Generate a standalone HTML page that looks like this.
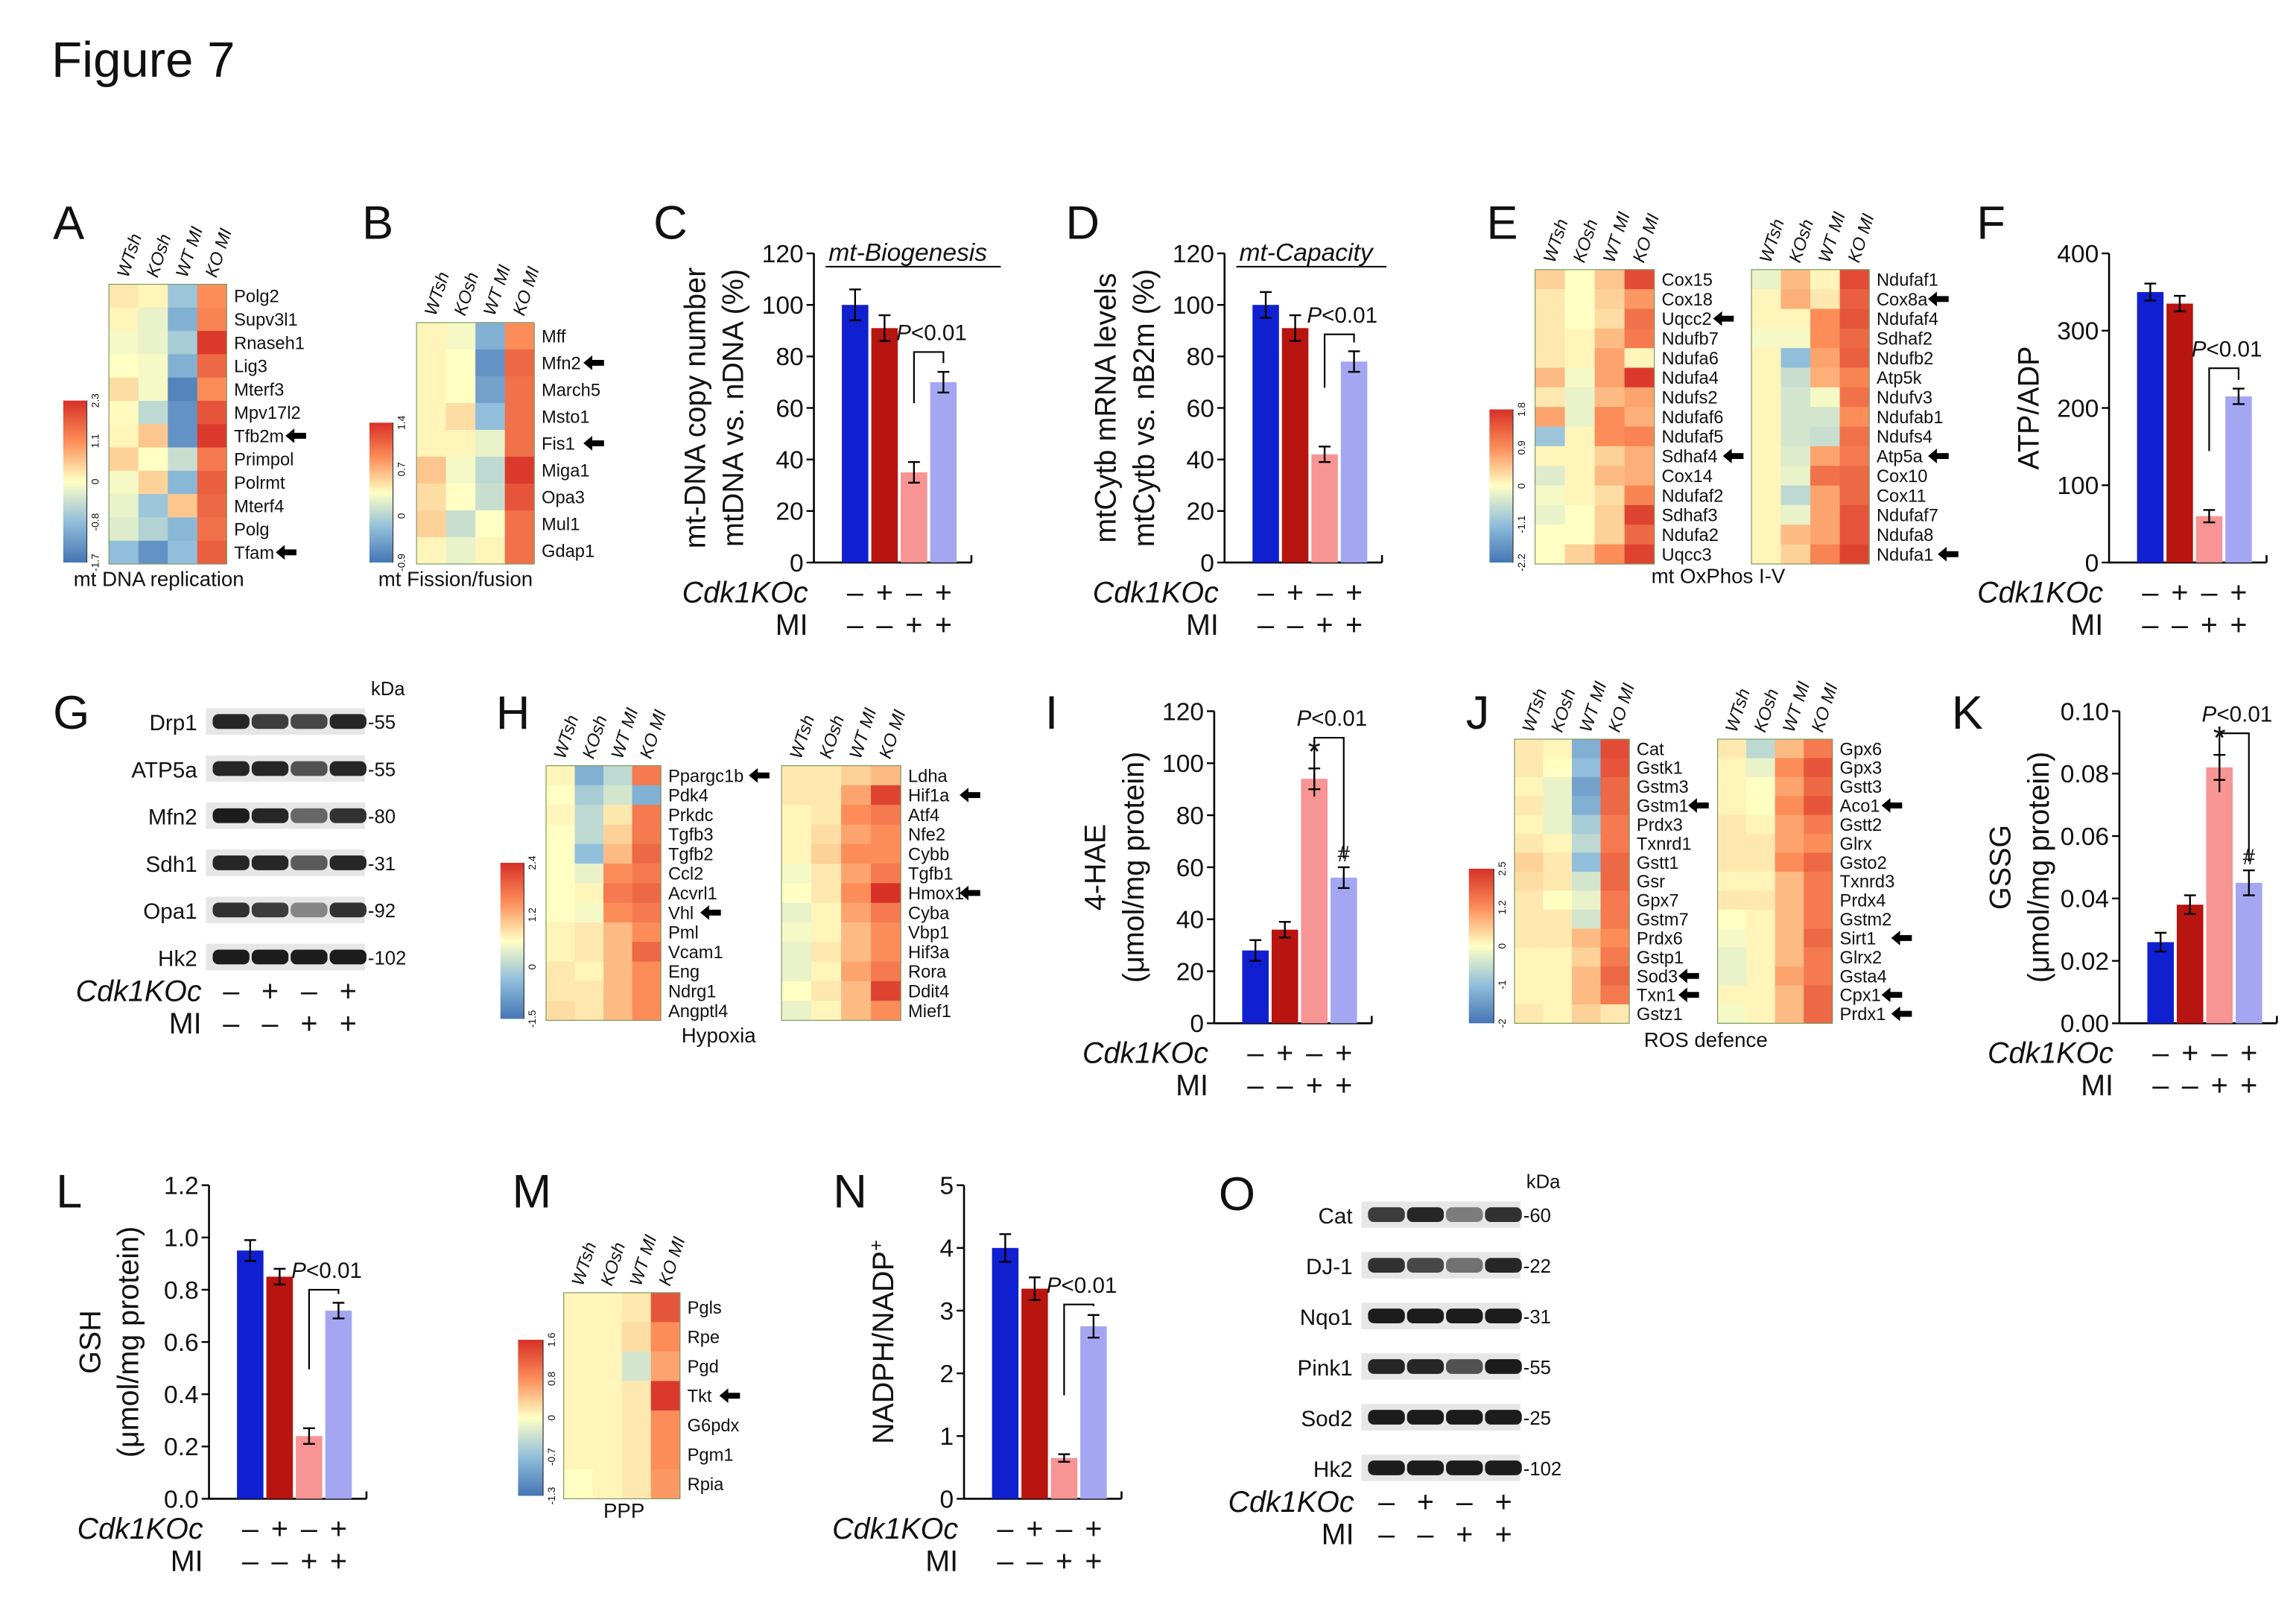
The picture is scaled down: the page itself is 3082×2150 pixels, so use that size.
<!DOCTYPE html>
<html><head><meta charset="utf-8"><style>
html,body{margin:0;padding:0;background:#fff}
svg{display:block}
text{font-family:"Liberation Sans",sans-serif;fill:#111}
</style></head><body>
<svg id="fig" width="3082" height="2150" viewBox="0 0 1560 1088" xmlns="http://www.w3.org/2000/svg">
<text x="35" y="52" font-size="34">Figure 7</text>
</svg>
<script>
// ---------- data ----------
const groups = ["WTsh","KOsh","WT MI","KO MI"];
const koSigns = ["–","+","–","+"];
const miSigns = ["–","–","+","+"];

const cValues = [100, 91, 35, 70];
const cErrors = [6, 5, 4, 4];
const cTicks = [0,20,40,60,80,100,120];
const dValues = [100, 91, 42, 78];
const dErrors = [5, 5, 3, 4];
const dTicks = [0,20,40,60,80,100,120];
const fValues = [350, 335, 60, 215];
const fErrors = [11, 10, 8, 10];
const fTicks = [0,100,200,300,400];
const iValues = [28, 36, 94, 56];
const iErrors = [4, 3, 4, 4];
const iTicks = [0,20,40,60,80,100,120];
const kValues = [0.026, 0.038, 0.082, 0.045];
const kErrors = [0.003, 0.003, 0.004, 0.004];
const kTicks = [0,0.02,0.04,0.06,0.08,0.10];
const lValues = [0.95, 0.85, 0.24, 0.72];
const lErrors = [0.04, 0.03, 0.03, 0.03];
const lTicks = [0,0.2,0.4,0.6,0.8,1.0,1.2];
const nValues = [4.0, 3.35, 0.65, 2.75];
const nErrors = [0.22, 0.18, 0.06, 0.18];
const nTicks = [0,1,2,3,4,5];

const aGenes = ["Polg2","Supv3l1","Rnaseh1","Lig3","Mterf3","Mpv17l2","Tfb2m","Primpol","Polrmt","Mterf4","Polg","Tfam"];
const aCells = [[.1,.05,-.45,.5],[.05,-.1,-.6,.55],[-.05,-.1,-.4,.95],[0,-.05,-.6,.7],[.15,-.05,-.9,.5],[.02,-.3,-.8,.8],[.05,.25,-.8,.95],[.2,0,-.25,.6],[-.05,.2,-.55,.75],[-.1,-.45,.25,.7],[-.15,-.35,-.55,.65],[-.5,-.8,-.5,.75]];
const aArrows = ["Tfb2m","Tfam"];
const bGenes = ["Mff","Mfn2","March5","Msto1","Fis1","Miga1","Opa3","Mul1","Gdap1"];
const bCells = [[.05,-.05,-.6,.5],[.05,0,-.8,.7],[.05,0,-.7,.65],[.05,.15,-.5,.65],[.05,.05,-.1,.65],[.25,-.05,-.3,.95],[.15,0,-.25,.8],[.2,-.25,0,.65],[.05,-.1,.05,.65]];
const bArrows = ["Mfn2","Fis1"];
const e1Genes = ["Cox15","Cox18","Uqcc2","Ndufb7","Ndufa6","Ndufa4","Ndufs2","Ndufaf6","Ndufaf5","Sdhaf4","Cox14","Ndufaf2","Sdhaf3","Ndufa2","Uqcc3"];
const e1Cells = [[.2,0,.25,.85],[.1,0,.2,.45],[.1,0,.15,.65],[.1,.05,.3,.6],[.1,.05,.4,.05],[.3,-.05,.4,.95],[.1,-.1,.3,.4],[.4,-.1,.5,.35],[-.45,.05,.5,.55],[.05,.05,.2,.35],[-.15,.05,.3,.35],[-.05,.05,.15,.55],[-.1,0,.2,.9],[0,0,.2,.7],[0,.2,.5,.9]];
const e1Arrows = ["Uqcc2","Sdhaf4"];
const e2Genes = ["Ndufaf1","Cox8a","Ndufaf4","Sdhaf2","Ndufb2","Atp5k","Ndufv3","Ndufab1","Ndufs4","Atp5a","Cox10","Cox11","Ndufaf7","Ndufa8","Ndufa1"];
const e2Cells = [[-.1,.3,.05,.85],[.05,.35,.1,.75],[.05,.05,.5,.8],[-.05,-.05,.5,.7],[.05,-.5,.4,.75],[.05,-.25,.35,.55],[.05,-.2,-.05,.65],[.05,-.2,-.2,.5],[.05,-.2,-.25,.65],[.05,-.15,.4,.6],[.05,-.1,.65,.7],[.05,-.3,.4,.7],[.05,-.1,.4,.8],[.05,.3,.4,.8],[.05,.2,.55,.9]];
const e2Arrows = ["Cox8a","Atp5a","Ndufa1"];
const h1Genes = ["Ppargc1b","Pdk4","Prkdc","Tgfb3","Tgfb2","Ccl2","Acvrl1","Vhl","Pml","Vcam1","Eng","Ndrg1","Angptl4"];
const h1Cells = [[.05,-.6,-.3,.6],[0,-.4,-.2,-.6],[.05,-.3,.1,.6],[0,-.3,.2,.6],[0,-.5,.3,.7],[0,-.1,.5,.6],[0,.05,.6,.7],[0,-.05,.5,.6],[.05,.1,.3,.5],[.05,.1,.3,.7],[.1,.05,.3,.5],[.1,.1,.3,.5],[.15,.1,.3,.5]];
const h1Arrows = ["Ppargc1b","Vhl"];
const h2Genes = ["Ldha","Hif1a","Atf4","Nfe2","Cybb","Tgfb1","Hmox1","Cyba","Vbp1","Hif3a","Rora","Ddit4","Mief1"];
const h2Cells = [[.1,.1,.2,.3],[.1,.1,.4,.9],[.05,.1,.5,.6],[.05,.15,.4,.5],[.05,.2,.5,.5],[-.05,.1,.4,.6],[0,.1,.5,1],[-.1,.05,.4,.6],[-.05,.05,.3,.5],[-.1,.1,.3,.5],[-.1,.05,.4,.6],[0,.1,.3,.9],[-.1,.05,.3,.5]];
const h2Arrows = ["Hif1a","Hmox1"];
const j1Genes = ["Cat","Gstk1","Gstm3","Gstm1","Prdx3","Txnrd1","Gstt1","Gsr","Gpx7","Gstm7","Prdx6","Gstp1","Sod3","Txn1","Gstz1"];
const j1Cells = [[.1,.05,-.6,.85],[.1,0,-.5,.8],[.05,-.1,-.7,.7],[.1,-.1,-.6,.7],[.05,-.1,-.4,.6],[.1,.05,-.3,.6],[.2,.1,-.5,.7],[.15,.1,-.2,.7],[.1,0,-.1,.6],[.1,.1,-.2,.6],[.1,.1,.3,.5],[.05,.05,.2,.6],[.05,.05,.3,.7],[.05,.05,.3,.6],[.1,.05,.2,.1]];
const j1Arrows = ["Gstm1","Sod3","Txn1"];
const j2Genes = ["Gpx6","Gpx3","Gstt3","Aco1","Gstt2","Glrx","Gsto2","Txnrd3","Prdx4","Gstm2","Sirt1","Glrx2","Gsta4","Cpx1","Prdx1"];
const j2Cells = [[.1,-.3,.3,.6],[.05,-.1,.5,.8],[.05,0,.4,.7],[.05,0,.5,.8],[.1,.05,.4,.6],[.1,.1,.4,.5],[.1,.1,.5,.7],[.05,.05,.3,.6],[.1,.1,.3,.6],[0,.05,.3,.6],[-.05,.05,.3,.7],[-.1,.05,.3,.6],[-.1,.05,.4,.6],[.05,.05,.3,.7],[-.05,.05,.3,.7]];
const j2Arrows = ["Aco1","Sirt1","Cpx1","Prdx1"];
const mGenes = ["Pgls","Rpe","Pgd","Tkt","G6pdx","Pgm1","Rpia"];
const mCells = [[.05,.05,.1,.8],[.05,.05,.15,.5],[.05,.05,-.2,.4],[.05,.05,.1,.95],[.05,.05,.1,.5],[.05,.05,.1,.5],[0,.05,.1,.45]];
const mArrows = ["Tkt"];

const gProteins = ["Drp1","ATP5a","Mfn2","Sdh1","Opa1","Hk2"];
const gKda = ["55","55","80","31","92","102"];
const gBands = [[.9,.8,.75,.9],[.9,.9,.7,.9],[.95,.9,.6,.85],[.9,.9,.65,.9],[.85,.8,.45,.85],[.95,.95,.95,.95]];
const oProteins = ["Cat","DJ-1","Nqo1","Pink1","Sod2","Hk2"];
const oKda = ["60","22","31","55","25","102"];
const oBands = [[.8,.9,.5,.85],[.85,.75,.55,.9],[.95,.95,.95,.95],[.9,.9,.7,.95],[.95,.95,.95,.95],[.95,.95,.95,.95]];

const barColors = ["#1020d0","#b81410","#f79494","#a4a6f2"];
</script>
<script>
const NS = "http://www.w3.org/2000/svg";
const svg = document.getElementById('fig');
function mk(tag, attrs, parent, name, inter) {
  const el = document.createElementNS(NS, tag);
  for (const k in attrs) el.setAttribute(k, attrs[k]);
  
  
  (parent || svg).appendChild(el);
  return el;
}
function txt(x, y, s, size, extra, name, parent) {
  const t = mk('text', Object.assign({x: x, y: y, 'font-size': size}, extra || {}), parent, name, false);
  t.textContent = s;
  return t;
}
function hcolor(v) {
  const stops = [[-1,[69,117,180]],[-0.5,[145,191,219]],[0,[255,255,196]],[0.5,[252,141,89]],[1,[215,48,39]]];
  v = Math.max(-1, Math.min(1, v));
  for (let i = 0; i < stops.length - 1; i++) {
    const a = stops[i], b = stops[i+1];
    if (v <= b[0]) {
      const t = (v - a[0]) / (b[0] - a[0]);
      const c = a[1].map((x, j) => Math.round(x + (b[1][j] - x) * t));
      return 'rgb(' + c.join(',') + ')';
    }
  }
}
// defs gradient
const defs = mk('defs', {}, svg, 'defs', false);
const grad = mk('linearGradient', {id: 'cb', x1: 0, y1: 1, x2: 0, y2: 0}, defs, 'colorbar-gradient', false);
[-1,-0.5,0,0.5,1].forEach((v, i) => {
  mk('stop', {offset: (i * 25) + '%', 'stop-color': hcolor(v)}, grad, 'gradient-stop', false);
});

function panelLabel(x, y, s) { txt(x, y, s, 32, {}, 'panel-label-' + s.toLowerCase()); }

function heatmap(id, x, y, w, h, genes, cells, arrows, showCols) {
  const g = mk('g', {}, svg, 'heatmap-' + id, false);
  const cw = w / 4, rh = h / genes.length;
  cells.forEach((row, r) => row.forEach((v, c) => {
    mk('rect', {x: x + c * cw, y: y + r * rh, width: cw + 0.3, height: rh + 0.3, fill: hcolor(v)}, g, 'heatmap-cell', false);
  }));
  mk('rect', {x: x, y: y, width: w, height: h, fill: 'none', stroke: '#7a9a60', 'stroke-width': 0.6}, g, 'heatmap-border', false);
  const fs = Math.min(12, rh * 0.95);
  genes.forEach((gn, r) => {
    const t = txt(x + w + 5, y + (r + 0.5) * rh + fs * 0.36, gn, fs, {fill: '#444'}, 'gene-label', g);
    if (arrows.indexOf(gn) >= 0) {
      const ax = x + w + 7 + gn.length * fs * 0.55;
      const ay = y + (r + 0.5) * rh;
      mk('path', {d: 'M' + ax + ' ' + ay + ' l6 -5 v3 h8 v4 h-8 v3 z', fill: '#000'}, g, 'arrow-marker', false);
    }
  });
  groups.forEach((gr, c) => {
    const cx = x + (c + 0.5) * cw + 3, cy = y - 4;
    txt(cx, cy, gr, 12, {transform: 'rotate(-72 ' + cx + ' ' + cy + ')', 'font-style': 'italic'}, 'column-label', g);
  });
}
function colorbar(id, x, y, w, h, labels) {
  const g = mk('g', {}, svg, 'colorbar-' + id, false);
  mk('rect', {x: x, y: y, width: w, height: h, fill: 'url(#cb)'}, g, 'colorbar', false);
  mk('line', {x1: x + w, y1: y, x2: x + w, y2: y + h, stroke: '#333', 'stroke-width': 0.6}, g, 'colorbar-axis', false);
  labels.forEach((l, i) => {
    const ly = y + h - (i / (labels.length - 1)) * h;
    txt(x + w + 8, ly, l, 7, {transform: 'rotate(-90 ' + (x + w + 8) + ' ' + ly + ')', 'text-anchor': 'middle', fill: '#333'}, 'colorbar-tick', g);
  });
}

function barChart(id, ax, yTop, yZero, maxV, ticks, tickFmt, values, errs, ylabels, pText, pY, marks) {
  const g = mk('g', {}, svg, 'bar-chart-' + id, false);
  const ys = v => yZero - (v / maxV) * (yZero - yTop);
  const bx = i => ax + 28 + i * 20;
  mk('line', {x1: ax, y1: yTop, x2: ax, y2: yZero, stroke: '#000', 'stroke-width': 1.3}, g, 'y-axis', false);
  mk('line', {x1: ax, y1: yZero, x2: ax + 107, y2: yZero, stroke: '#000', 'stroke-width': 1.3}, g, 'x-axis', false);
  mk('line', {x1: ax + 107, y1: yZero, x2: ax + 107, y2: yZero - 5, stroke: '#000', 'stroke-width': 1.3}, g, 'x-axis-end', false);
  ticks.forEach(t => {
    const ty = ys(t);
    mk('line', {x1: ax - 5, y1: ty, x2: ax, y2: ty, stroke: '#000', 'stroke-width': 1.2}, g, 'y-tick', false);
    txt(ax - 7, ty + 6, tickFmt(t), 17, {'text-anchor': 'end'}, 'y-tick-label', g);
  });
  values.forEach((v, i) => {
    const x = bx(i);
    mk('rect', {x: x - 9, y: ys(v), width: 18, height: yZero - ys(v), fill: barColors[i]}, g, 'bar-' + groups[i].toLowerCase().replace(' ', '-'), true);
    const e1 = ys(v + errs[i]), e2 = ys(v - errs[i]);
    mk('path', {d: 'M' + x + ' ' + e1 + 'V' + e2 + 'M' + (x - 4) + ' ' + e1 + 'h8M' + (x - 4) + ' ' + e2 + 'h8', stroke: '#000', 'stroke-width': 1.2, fill: 'none'}, g, 'error-bar', false);
  });
  // bracket
  const top3 = ys(values[3] + errs[3]) - 6;
  const bY = pY + 8;
  mk('path', {d: 'M' + (bx(2)) + ' ' + (ys(values[2] + errs[2]) - 40 > bY ? ys(values[2] + errs[2]) - 40 : bY + 40) + 'V' + bY + 'H' + bx(3) + 'V' + top3, stroke: '#000', 'stroke-width': 1.1, fill: 'none'}, g, 'significance-bracket', false);
  txt(bx(2) - 12, pY, '', 15, {}, 'p-value', g).innerHTML = '<tspan font-style="italic">P</tspan>&lt;0.01';
  if (marks) {
    txt(bx(2), ys(values[2] + errs[2]) - 4, '*', 22, {'text-anchor': 'middle'}, 'significance-star', g);
    txt(bx(3), ys(values[3] + errs[3]) - 4, '#', 15, {'text-anchor': 'middle'}, 'significance-hash', g);
  }
  // y labels
  ylabels.forEach((l, i) => {
    const lx = ax - 48 - (ylabels.length - 1 - i) * 26, ly = (yTop + yZero) / 2;
    const t = txt(lx, ly, '', 20, {transform: 'rotate(-90 ' + lx + ' ' + ly + ')', 'text-anchor': 'middle'}, 'y-axis-title', g);
    t.innerHTML = l;
  });
  signRows(id, ax - 4, bx, yZero + 27, g);
  return {ys: ys, bx: bx};
}
function signRows(id, rightX, bx, y0, g) {
  txt(rightX, y0, 'Cdk1KOc', 20, {'text-anchor': 'end', 'font-style': 'italic'}, 'cdk1koc-row-label', g);
  txt(rightX, y0 + 22, 'MI', 20, {'text-anchor': 'end'}, 'mi-row-label', g);
  koSigns.forEach((s, i) => txt(bx(i), y0, s, 20, {'text-anchor': 'middle'}, 'cdk1koc-sign', g));
  miSigns.forEach((s, i) => txt(bx(i), y0 + 22, s, 20, {'text-anchor': 'middle'}, 'mi-sign', g));
}
function blot(id, x, y0, step, proteins, kda, bands, labelX) {
  const g = mk('g', {}, svg, 'western-blot-' + id, false);
  const bx = i => x + 17 + i * 26.5;
  proteins.forEach((p, r) => {
    const y = y0 + r * step;
    mk('rect', {x: x, y: y - 9, width: 108, height: 18, fill: '#e6e6e6'}, g, 'blot-strip', false);
    bands[r].forEach((v, i) => {
      mk('rect', {x: bx(i) - 12.5, y: y - 5, width: 25, height: 10, rx: 4, fill: '#111', opacity: v}, g, 'blot-band', false);
    });
    txt(x - 6, y + 6, p, 15, {'text-anchor': 'end'}, 'protein-label', g);
    txt(x + 110, y + 5, '-' + kda[r], 13, {}, 'kda-marker', g);
  });
  txt(x + 112, y0 - 18, 'kDa', 13, {}, 'kda-header', g);
  signRows(id, labelX, bx, y0 + (proteins.length - 1) * step + 30, g);
}

// ---------- panels ----------
panelLabel(36, 162, 'A');
heatmap('a', 74, 193, 80, 190, aGenes, aCells, aArrows);
colorbar('a', 43, 272, 16, 110, ['-1.7','-0.8','0','1.1','2.3']);
txt(50, 398, 'mt DNA replication', 14, {}, 'caption-a');

panelLabel(246, 162, 'B');
heatmap('b', 283, 219, 80, 164, bGenes, bCells, bArrows);
colorbar('b', 251, 287, 16, 95, ['-0.9','0','0.7','1.4']);
txt(257, 398, 'mt Fission/fusion', 14, {}, 'caption-b');

panelLabel(444, 162, 'C');
barChart('c', 553, 172, 382, 120, cTicks, t => t, cValues, cErrors, ['mt-DNA copy number', 'mtDNA vs. nDNA (%)'], 'P<0.01', 231, false);
txt(563, 177, 'mt-Biogenesis', 17, {'font-style': 'italic'}, 'title-mt-biogenesis');
mk('line', {x1: 561, y1: 181, x2: 680, y2: 181, stroke: '#000', 'stroke-width': 1}, svg, 'title-underline', false);

panelLabel(724, 162, 'D');
barChart('d', 832, 172, 382, 120, dTicks, t => t, dValues, dErrors, ['mtCytb mRNA levels', 'mtCytb vs. nB2m (%)'], 'P<0.01', 219, false);
txt(842, 177, 'mt-Capacity', 17, {'font-style': 'italic'}, 'title-mt-capacity');
mk('line', {x1: 840, y1: 181, x2: 942, y2: 181, stroke: '#000', 'stroke-width': 1}, svg, 'title-underline', false);

panelLabel(1010, 162, 'E');
heatmap('e1', 1043, 183, 81, 200, e1Genes, e1Cells, e1Arrows);
heatmap('e2', 1190, 183, 80, 200, e2Genes, e2Cells, e2Arrows);
colorbar('e', 1012, 278, 16, 104, ['-2.2','-1.1','0','0.9','1.8']);
txt(1122, 396, 'mt OxPhos I-V', 14, {}, 'caption-e');

panelLabel(1343, 162, 'F');
barChart('f', 1433, 172, 382, 400, fTicks, t => t, fValues, fErrors, ['ATP/ADP'], 'P<0.01', 242, false);

panelLabel(36, 495, 'G');
blot('g', 140, 490, 32, gProteins, gKda, gBands, 137);

panelLabel(337, 495, 'H');
heatmap('h1', 371, 520, 78, 173, h1Genes, h1Cells, h1Arrows);
heatmap('h2', 531, 520, 81, 173, h2Genes, h2Cells, h2Arrows);
colorbar('h', 340, 586, 16, 106, ['-1.5','0','1.2','2.4']);
txt(463, 708, 'Hypoxia', 14, {}, 'caption-h');

panelLabel(710, 495, 'I');
barChart('i', 825, 483, 695, 120, iTicks, t => t, iValues, iErrors, ['4-HAE', '(μmol/mg protein)'], 'P<0.01', 493, true);

panelLabel(996, 495, 'J');
heatmap('j1', 1029, 502, 78, 193, j1Genes, j1Cells, j1Arrows);
heatmap('j2', 1167, 502, 78, 193, j2Genes, j2Cells, j2Arrows);
colorbar('j', 998, 590, 17, 105, ['-2','-1','0','1.2','2.5']);
txt(1117, 711, 'ROS defence', 14, {}, 'caption-j');

panelLabel(1326, 495, 'K');
barChart('k', 1440, 483, 695, 0.10, kTicks, t => t.toFixed(2), kValues, kErrors, ['GSSG', '(μmol/mg protein)'], 'P<0.01', 490, true);

panelLabel(38, 820, 'L');
barChart('l', 142, 805, 1018, 1.2, lTicks, t => t.toFixed(1), lValues, lErrors, ['GSH', '(μmol/mg protein)'], 'P<0.01', 868, false);

panelLabel(348, 820, 'M');
heatmap('m', 383, 878, 79, 140, mGenes, mCells, mArrows);
colorbar('m', 352, 910, 17, 106, ['-1.3','-0.7','0','0.8','1.6']);
txt(410, 1031, 'PPP', 14, {}, 'caption-m');

panelLabel(566, 820, 'N');
barChart('n', 655, 805, 1018, 5, nTicks, t => t, nValues, nErrors, ['NADPH/NADP<tspan baseline-shift="super" font-size="13">+</tspan>'], 'P<0.01', 878, false);

panelLabel(828, 822, 'O');
blot('o', 925, 825, 34.4, oProteins, oKda, oBands, 920);
</script>
</body></html>
